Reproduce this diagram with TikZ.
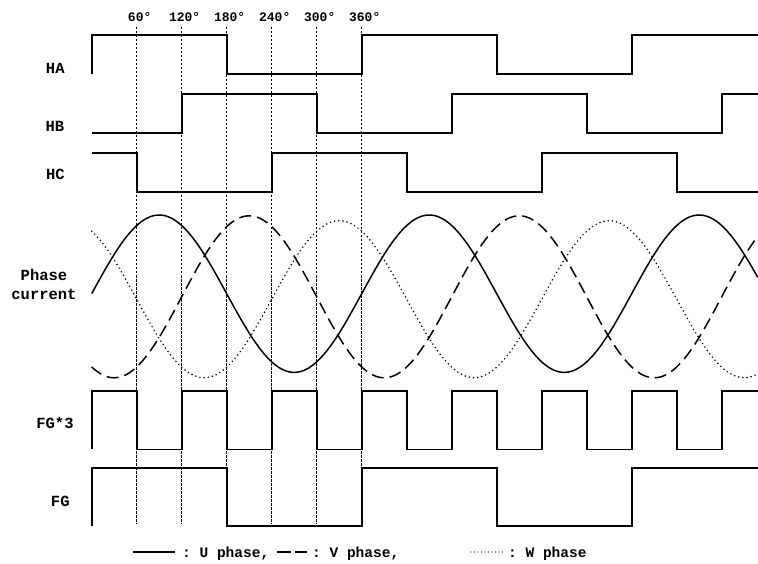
\documentclass[tikz,border=0pt]{standalone}
\usepackage{fontspec}
\setmonofont{Liberation Mono}
\usetikzlibrary{positioning}

\tikzstyle{wave}=[draw,line width=1.6pt,line join=miter]
\tikzstyle{guide}=[draw,line width=0.6pt,dash pattern=on 2.5pt off 1.5pt]
\tikzstyle{signame}=[anchor=base,inner sep=0pt,font=\ttfamily\bfseries\fontsize{15.5}{18}\selectfont]
\tikzstyle{deglabel}=[anchor=base,inner sep=0pt,font=\ttfamily\bfseries\fontsize{13}{15}\selectfont]
\tikzstyle{legendtext}=[anchor=base west,inner sep=0pt,font=\ttfamily\bfseries\fontsize{14.5}{17}\selectfont]
\tikzstyle{uphase}=[draw,line width=1.5pt]
\tikzstyle{vphase}=[draw,line width=1.5pt,dash pattern=on 12pt off 6pt]
\tikzstyle{wphase}=[draw,line width=1.7pt,line cap=round,dash pattern=on 0pt off 4.2pt]
\newcommand{\degscale}{0.75}

\begin{document}
\begin{tikzpicture}[x=1pt, y=-1pt]
    \useasboundingbox (0,0) rectangle (758,564);
    % Signal names on the left
    \foreach \pos/\name/\txt in {{(55.3,73.3)/ha/HA}, {(55,131.7)/hb/HB}, {(55.5,179.3)/hc/HC},
        {(44,280)/ph/Phase}, {(44,299.3)/cur/current}, {(55,428.3)/fgt/FG*3}, {(60.3,506.7)/fg/FG}}
        \node[signame] (\name) at \pos {\txt};

    \begin{scope}[xshift=91.7pt, x=\degscale pt]
        % Dotted guides every 60 degrees, with their angles on top
        \foreach \a in {60,120,...,360} {
            \coordinate (g\a top) at (\a,27);
            \coordinate (g\a bot) at (\a,524);
            \path[guide] (g\a top) -- (g\a bot);
            \node[deglabel] (d\a) at (\a+4,21.7) {\a°};
        }
        % Hall sensor outputs
        \path[wave] (0,74.3) |- (180,35) |- (360,74.3) |- (540,35) |- (720,74.3) |- (888,35);
        \path[wave] (0,133.3) -- (120,133.3) |- (300,94.3) |- (480,133.3) |- (660,94.3) |- (840,133.3) |- (888,94.3);
        \path[wave] (0,153.3) -- (60,153.3) |- (240,192.3) |- (420,153.3) |- (600,192.3) |- (780,153.3) |- (888,192.3);
        % Phase currents
        \path[uphase] plot[domain=0:888, samples=240, smooth] (\x, {293.7-78.7*sin(\x)});
        \path[vphase] plot[domain=0:888, samples=240, smooth] (\x, {296.8-81*sin(\x-120)});
        \path[wphase] plot[domain=0:888, samples=240, smooth] (\x, {299.2-78.5*sin(\x-240)});
        % FG outputs
        \path[wave] (0,449.3) \foreach \a in {60,180,...,780} { |- (\a,390.7) |- (\a+60,449.3) } |- (888,390.7);
        \path[wave] (0,525.7) |- (180,467.7) |- (360,525.7) |- (540,467.7) |- (720,525.7) |- (888,467.7);
    \end{scope}

    % Legend
    \coordinate (ua) at (133,552);
    \coordinate (ub) at (175,552);
    \path[uphase] (ua) -- (ub);
    \node[legendtext] (lu) at (182,557.5) {: U phase,};
    \coordinate (va) at (277,552);
    \coordinate (vb) at (307,552);
    \path[draw,line width=1.5pt,dash pattern=on 14pt off 4pt] (va) -- (vb);
    \node[legendtext] (lv) at (312,557.5) {: V phase,};
    \coordinate (wa) at (471,552);
    \coordinate (wb) at (506,552);
    \path[draw,line width=1.3pt,line cap=round,dash pattern=on 0pt off 3.5pt] (wa) -- (wb);
    \node[legendtext] (lw) at (508,557.5) {: W phase};
\end{tikzpicture}
\end{document}
